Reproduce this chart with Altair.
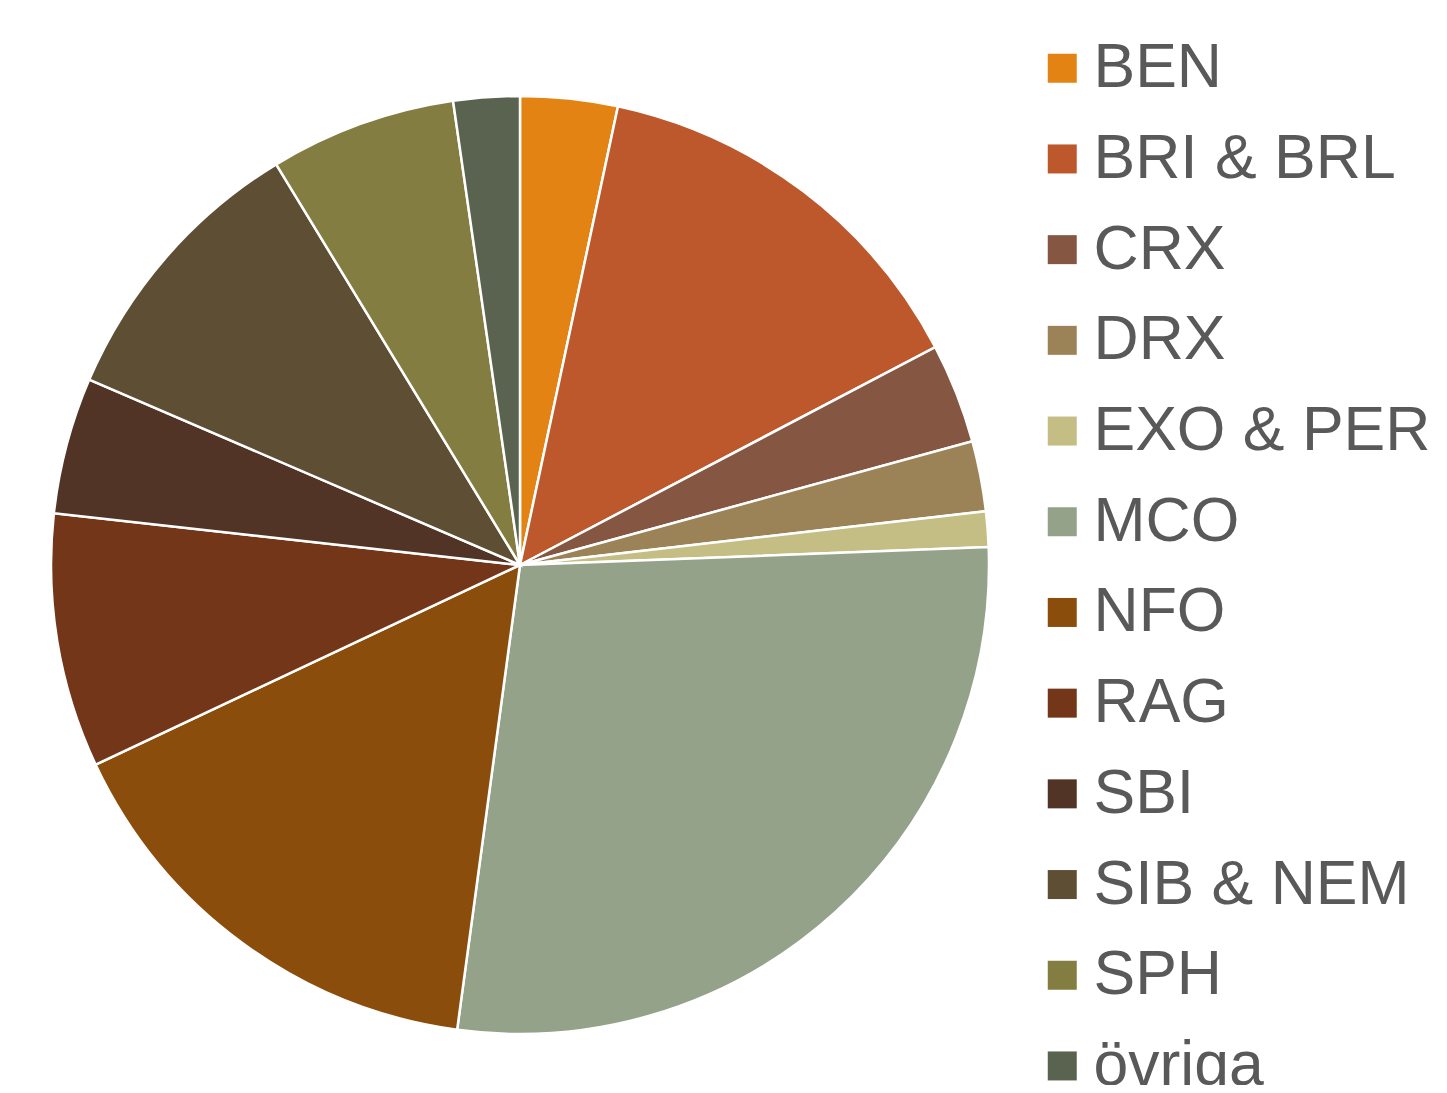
import altair as alt
import pandas as pd

categories = ["BEN", "BRI & BRL", "CRX", "DRX", "EXO & PER", "MCO", "NFO",
              "RAG", "SBI", "SIB & NEM", "SPH", "övriga"]
values = [3.35, 13.96, 3.44, 2.42, 1.22, 27.75, 15.86, 8.76, 4.71, 9.83, 6.42, 2.28]
colors = ["#E38313", "#BD582C", "#855642", "#9C8357", "#C4BD84", "#95A28A",
          "#8B4D0C", "#733619", "#523426", "#5E4E34", "#837D42", "#5A6350"]

df = pd.DataFrame({"cat": categories, "val": values, "idx": list(range(len(categories)))})

chart = alt.Chart(df).mark_arc(outerRadius=469, stroke="white", strokeWidth=2.5).encode(
    theta=alt.Theta("val:Q", stack=True),
    order=alt.Order("idx:Q"),
    x=alt.value(512),
    y=alt.value(557),
    color=alt.Color(
        "cat:N",
        scale=alt.Scale(domain=categories, range=colors),
        sort=categories,
        legend=alt.Legend(
            title=None,
            orient="none",
            legendX=1023,
            legendY=29,
            symbolType="square",
            symbolSize=841,
            symbolStrokeWidth=0,
            labelFont="Liberation Sans",
            labelFontSize=62.5,
            labelColor="#595959",
            labelOffset=0,
            labelLimit=1000,
            rowPadding=27.7,
        ),
    ),
).properties(
    width=1431, height=1077, autosize=alt.AutoSizeParams(type="none"), padding=0
).configure_view(stroke=None)

chart.save("out.html", embed_options={"renderer": "svg", "actions": False})
